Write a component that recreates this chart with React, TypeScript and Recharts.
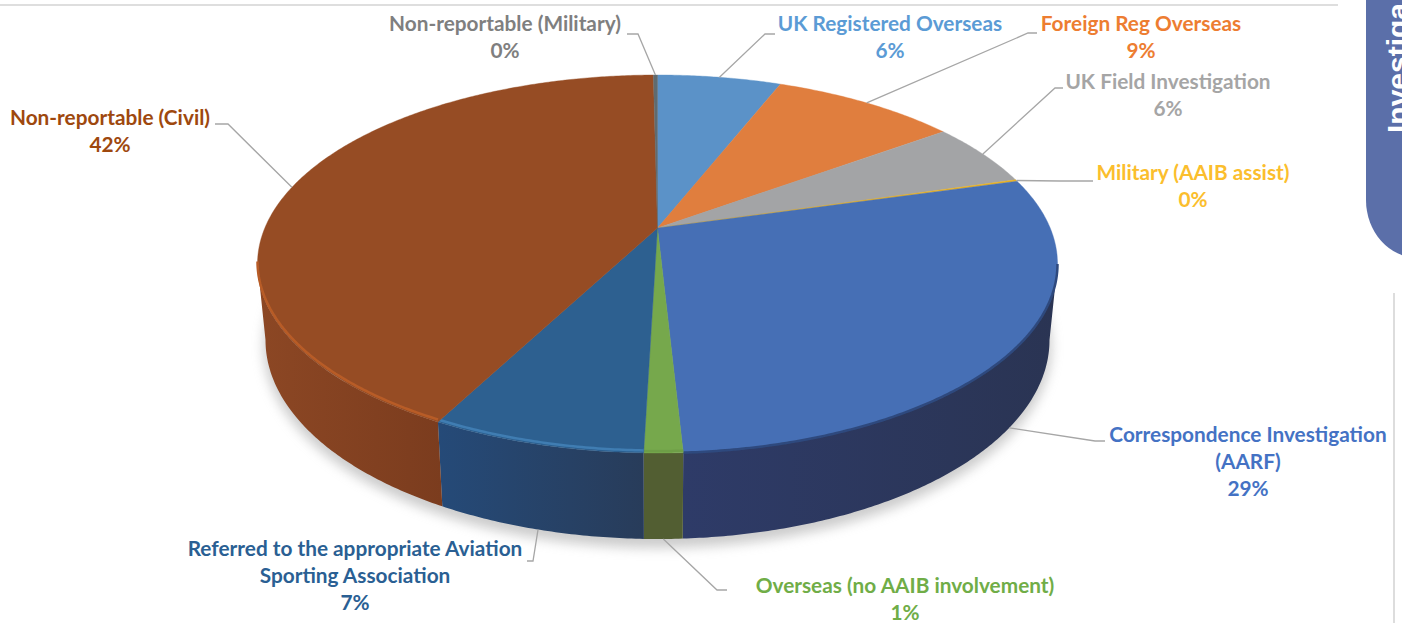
import React from "react";
import { PieChart, Pie } from "recharts";

const CATEGORIES = [
  "UK Registered Overseas",
  "Foreign Reg Overseas",
  "UK Field Investigation",
  "Military (AAIB assist)",
  "Correspondence Investigation (AARF)",
  "Overseas (no AAIB involvement)",
  "Referred to the appropriate Aviation Sporting Association",
  "Non-reportable (Civil)",
  "Non-reportable (Military)",
];
const VALUES = [6.0, 9.0, 5.5, 0.15, 28.5, 1.3, 7.24, 42.1, 0.2];
const PERCENT_LABELS = ["6%", "9%", "6%", "0%", "29%", "1%", "7%", "42%", "0%"];

const data = CATEGORIES.map((name, i) => ({ name, value: VALUES[i], percentLabel: PERCENT_LABELS[i] }));

const TOP_COLORS = ["#5B92C8", "#E07E3E", "#A3A4A6", "#E8B020", "#466FB5", "#76A84C", "#2D6090", "#964C24", "#5F6B70"];
const WALL_FROM = ["#4a7aa8", "#b8642e", "#858688", "#c79a18", "#2E3B68", "#525E32", "#254A78", "#8C4724", "#555"];
const WALL_TO = ["#4a7aa8", "#b8642e", "#858688", "#c79a18", "#2A3453", "#525E32", "#283C5A", "#7B3C1E", "#555"];
const RIM_COLORS = ["none", "none", "none", "none", "#2F4A7E", "#6E9E46", "#3F7DB2", "#B85C28", "none"];
const RIM_SHIFT = [0, 0, 0, 0, 0, -2, -2.5, -2.5, 0];
const TEXT_COLORS = ["#5B9BD5", "#ED7D31", "#A5A5A5", "#FBBE2D", "#4472C4", "#70AD47", "#2A5F93", "#9E480E", "#7F7F7F"];

// Label placement: text lines with centre x / first-line y, plus leader elbow and end
const LABEL_LINES = [
  ["UK Registered Overseas"],
  ["Foreign Reg Overseas"],
  ["UK Field Investigation"],
  ["Military (AAIB assist)"],
  ["Correspondence Investigation", "(AARF)"],
  ["Overseas (no AAIB involvement)"],
  ["Referred to the appropriate Aviation", "Sporting Association"],
  ["Non-reportable (Civil)"],
  ["Non-reportable (Military)"],
];
const LABEL_X = [890, 1141, 1168, 1193, 1248, 905, 355, 110, 505];
const LABEL_Y = [24, 24, 82, 173, 435, 586, 549, 118, 24];
const LEADER_ELBOW = [[765, 34], [1028, 33], [1055, 88], [1060, 181], [1095, 441], [717, 590], [533, 561], [228, 124], [638, 34]];
const LEADER_END = [[775, 34], [1037, 33], [1063, 88], [1093, 181], [1105, 441], [727, 590], [527, 561], [215, 124], [627, 34]];
const LEADER_ON_WALL = [false, false, false, false, true, true, true, false, false];

const CX = 657.5;
const CY = 264;
const RX = 400;
const RY_RATIO = 189 / 400;
const PERSPECTIVE = -36 / 189;
const DEPTH_Y = 76;
const DEPTH_RX = 0.98;
const DEPTH_RY = 199 / 189;
const WALL_MIN = 101;
const WALL_MAX = 259;

function project(thetaDeg: number, cx: number, cy: number, rx: number, ry: number): [number, number] {
  const t = (thetaDeg * Math.PI) / 180;
  const u = Math.sin(t);
  const v = -Math.cos(t);
  const k = PERSPECTIVE;
  const d = 1 + k * v;
  return [cx + (rx * Math.sqrt(1 - k * k) * u) / d, cy + (ry * (v + k)) / d];
}
const topPoint = (th: number, cx: number, cy: number, r: number) => project(th, cx, cy, r, r * RY_RATIO);
const bottomPoint = (th: number, cx: number, cy: number, r: number) =>
  project(th, cx, cy + DEPTH_Y, r * DEPTH_RX, r * RY_RATIO * DEPTH_RY);

function sample(a: number, b: number, fn: (t: number) => [number, number]) {
  const n = Math.max(2, Math.ceil(Math.abs(b - a) * 2));
  const pts: [number, number][] = [];
  for (let i = 0; i <= n; i++) pts.push(fn(a + ((b - a) * i) / n));
  return pts;
}
const toPath = (pts: [number, number][]) => pts.map((p, i) => `${i ? "L" : "M"}${p[0].toFixed(2)} ${p[1].toFixed(2)}`).join(" ");

function Slice3D(props: any) {
  const { cx, cy, outerRadius: r, startAngle, endAngle, index } = props;
  const s = 90 - startAngle;
  const e = 90 - endAngle;
  const wa = Math.max(s, WALL_MIN);
  const wb = Math.min(e, WALL_MAX);
  const hasWall = wb > wa;
  const apex: [number, number] = [cx, cy + r * RY_RATIO * PERSPECTIVE];
  const arc = sample(s, e, (t) => topPoint(t, cx, cy, r));
  const gid = `wall-${index}`;
  return (
    <g>
      {hasWall && (
        <>
          <defs>
            <linearGradient id={gid} x1="0" y1="0" x2="1" y2="0">
              <stop offset="0" stopColor={WALL_FROM[index]} />
              <stop offset="1" stopColor={WALL_TO[index]} />
            </linearGradient>
            <filter id={`rim-${index}`} filterUnits="userSpaceOnUse" x="0" y="0" width="1402" height="623">
              <feGaussianBlur stdDeviation="0.7" />
            </filter>
          </defs>
          <path
            d={
              toPath(sample(wa, wb, (t) => topPoint(t, cx, cy, r))) +
              " " +
              toPath(sample(wb, wa, (t) => bottomPoint(t, cx, cy, r))).replace(/^M/, "L") +
              " Z"
            }
            fill={`url(#${gid})`}
          />
        </>
      )}
      <path d={`M${apex[0]} ${apex[1]} ${toPath(arc).replace(/^M/, "L")} Z`} fill={TOP_COLORS[index]} stroke={TOP_COLORS[index]} strokeWidth={0.4} />
      {hasWall && RIM_COLORS[index] !== "none" && (
        <path
          d={toPath(sample(wa, wb, (t) => topPoint(t, cx, cy, r)))}
          transform={`translate(0,${RIM_SHIFT[index]})`}
          fill="none"
          stroke={RIM_COLORS[index]}
          strokeWidth={2.5}
          filter={`url(#rim-${index})`}
        />
      )}
    </g>
  );
}

function SliceLabel(props: any) {
  const { cx, cy, outerRadius: r, midAngle, index, percentLabel } = props;
  const th = 90 - midAngle;
  const start = LEADER_ON_WALL[index] ? bottomPoint(th, cx, cy, r) : topPoint(th, cx, cy, r);
  const pts = [start, LEADER_ELBOW[index], LEADER_END[index]].map((p) => p.join(",")).join(" ");
  const lines = [...LABEL_LINES[index], percentLabel];
  return (
    <g>
      <polyline points={pts} fill="none" stroke="#A6A6A6" strokeWidth={1.3} />
      <text
        textAnchor="middle"
        fill={TEXT_COLORS[index]}
        fontFamily="Lato, sans-serif"
        fontWeight={700}
        fontSize={20.8}
      >
        {lines.map((l: string, i: number) => (
          <tspan key={i} x={LABEL_X[index]} y={LABEL_Y[index] + 7 + i * 27}>
            {l}
          </tspan>
        ))}
      </text>
    </g>
  );
}

export default function App() {
  return (
    <div style={{ position: "absolute", left: 0, top: 0, width: 1402, height: 623, overflow: "hidden", background: "#fff" }}>
      <div style={{ position: "absolute", left: 0, top: 4, width: 1338, height: 2, background: "#DEDEDE" }} />
      <div style={{ position: "absolute", left: 1393, top: 293, width: 2, height: 330, background: "#DDDDDD" }} />
      <div
        style={{
          position: "absolute",
          left: 1366,
          top: -20,
          width: 60,
          height: 278,
          background: "#5B6FA9",
          borderBottomLeftRadius: "52px 58px",
        }}
      />
      <svg style={{ position: "absolute", left: 0, top: 0 }} width={1402} height={623}>
        <defs>
          <filter id="pie-shadow" x="-10%" y="-10%" width="120%" height="120%">
            <feGaussianBlur stdDeviation="6" />
          </filter>
        </defs>
        <ellipse cx={CX} cy={CY + DEPTH_Y + 6} rx={RX * DEPTH_RX + 2} ry={RX * RY_RATIO * DEPTH_RY + 3} fill="#9a9a9a" opacity={0.5} filter="url(#pie-shadow)" />
        <text
          transform="translate(1408,133) rotate(-90)"
          fill="#fff"
          fontFamily="'Liberation Sans', Arial, sans-serif"
          fontWeight={700}
          fontSize={30}
        >
          Investiga
        </text>
      </svg>
      <div style={{ position: "absolute", left: 0, top: 0 }}>
        <PieChart width={1402} height={623} margin={{ top: 0, right: 0, bottom: 0, left: 0 }}>
          <Pie
            data={data}
            dataKey="value"
            nameKey="name"
            cx={CX}
            cy={CY}
            innerRadius={0}
            outerRadius={RX}
            startAngle={90}
            endAngle={-270}
            stroke="none"
            isAnimationActive={false}
            shape={Slice3D}
            label={SliceLabel}
            labelLine={false}
          />
        </PieChart>
      </div>
    </div>
  );
}
